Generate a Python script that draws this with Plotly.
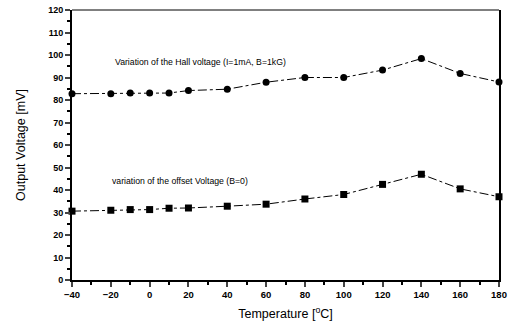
import plotly.graph_objects as go

temps = [-40, -20, -10, 0, 10, 20, 40, 60, 80, 100, 120, 140, 160, 180]
hall_mv = [82.8, 82.8, 83.1, 83.1, 83.1, 84.2, 84.8, 87.9, 90.0, 90.0, 93.3, 98.4, 91.8, 88.0]
offset_mv = [30.6, 31.0, 31.3, 31.3, 31.9, 32.0, 32.8, 33.7, 36.0, 38.0, 42.5, 47.0, 40.5, 37.0]
x_ticks = [-40, -20, 0, 20, 40, 60, 80, 100, 120, 140, 160, 180]
y_ticks = [0, 10, 20, 30, 40, 50, 60, 70, 80, 90, 100, 110, 120]

fig = go.Figure()
fig.add_trace(go.Scatter(x=temps, y=hall_mv, mode="lines+markers",
                         line=dict(color="black", width=1, dash="dashdot"),
                         marker=dict(symbol="circle", size=7, color="black"),
                         cliponaxis=False))
fig.add_trace(go.Scatter(x=temps, y=offset_mv, mode="lines+markers",
                         line=dict(color="black", width=1, dash="dashdot"),
                         marker=dict(symbol="square", size=7, color="black"),
                         cliponaxis=False))

annfont = dict(family="Liberation Sans", size=8.7, color="black")
fig.add_annotation(x=26, y=97, text="Variation of the Hall voltage (I=1mA, B=1kG)",
                   showarrow=False, font=annfont)
fig.add_annotation(x=15.5, y=44, text="variation of the offset Voltage (B=0)",
                   showarrow=False, font=annfont)

fig.add_shape(type="line", xref="paper", yref="paper", x0=0, x1=1, y0=1, y1=1,
              line=dict(color="black", width=1))

fig.update_xaxes(range=[-40, 180], tickvals=x_ticks, ticks="outside", ticklen=5, tickwidth=1.5,
                 showline=True, linecolor="black", linewidth=2, showgrid=False, zeroline=False,
                 automargin=False,
                 tickfont=dict(family="Liberation Sans", size=9.5, color="black", weight="bold"),
                 minor=dict(dtick=10, ticks="outside", ticklen=3, tickcolor="black"),
                 title=dict(text="Temperature [<sup>o</sup>C]", font=dict(family="Liberation Sans", size=12.5, color="black"), standoff=10))
fig.update_yaxes(range=[0, 120], tickvals=y_ticks, ticks="outside", ticklen=5, tickwidth=1.5,
                 showline=True, linecolor="black", linewidth=2, mirror=True, showgrid=False, zeroline=False,
                 automargin=False,
                 tickfont=dict(family="Liberation Sans", size=9, color="black", weight="bold"),
                 minor=dict(dtick=5, ticks="outside", ticklen=3, tickcolor="black"),
                 title=dict(text="Output Voltage [mV]", font=dict(family="Liberation Sans", size=12.5, color="black"), standoff=20))

fig.update_layout(width=515, height=331, margin=dict(l=72, r=16, t=10, b=51),
                  paper_bgcolor="white", plot_bgcolor="white", showlegend=False)
fig.write_html("out.html")
